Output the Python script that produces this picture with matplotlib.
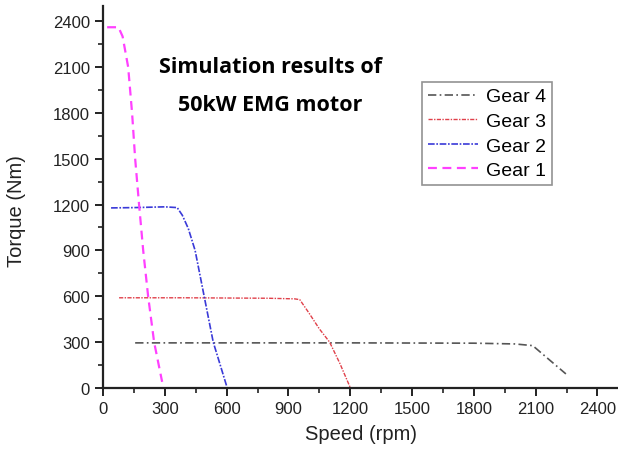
import matplotlib.pyplot as plt
from matplotlib.ticker import MultipleLocator

# Gear curves (speed rpm, torque Nm)
gear4_speed = [156, 600, 1200, 1800, 2000, 2086, 2247]
gear4_torque = [295, 295, 295, 293, 288, 277, 92]

gear3_speed = [78, 400, 800, 930, 955, 1000, 1050, 1100, 1150, 1201]
gear3_torque = [590, 590, 587, 583, 578, 490, 387, 300, 160, 0]

gear2_speed = [39, 150, 300, 360, 385, 414, 447, 491, 535, 560, 603]
gear2_torque = [1178, 1180, 1185, 1180, 1130, 1043, 900, 600, 300, 190, 0]

gear1_speed = [20, 75, 95, 122, 141, 156, 175, 195, 219, 248, 287]
gear1_torque = [2360, 2360, 2300, 2100, 1800, 1500, 1200, 900, 600, 300, 40]

plt.rcParams["font.family"] = ["Liberation Sans", "DejaVu Sans"]

fig = plt.figure(figsize=(6.18, 4.56), dpi=100)
ax = fig.add_axes([0.1667, 0.147, 0.8333, 0.838])

ax.plot(gear4_speed, gear4_torque, color="#555555", lw=1.2,
        ls=(0, (5, 2, 1, 2)), label="Gear 4")
ax.plot(gear3_speed, gear3_torque, color="#e0404a", lw=1.0,
        ls=(0, (3, 1, 1, 1)), label="Gear 3")
ax.plot(gear2_speed, gear2_torque, color="#3a3ad8", lw=1.2,
        ls=(0, (4, 1, 1, 1)), label="Gear 2")
ax.plot(gear1_speed, gear1_torque, color="#ff40ff", lw=1.6,
        ls=(0, (4, 2.5)), label="Gear 1")

ax.set_xlim(0, 2500)
ax.set_ylim(0, 2500)
ax.xaxis.set_major_locator(MultipleLocator(300))
ax.xaxis.set_minor_locator(MultipleLocator(150))
ax.yaxis.set_major_locator(MultipleLocator(300))
ax.yaxis.set_minor_locator(MultipleLocator(150))
ax.spines["top"].set_visible(False)
ax.spines["right"].set_visible(False)
for s in ("left", "bottom"):
    ax.spines[s].set_linewidth(1.6)
    ax.spines[s].set_color("#222222")
ax.tick_params(which="major", direction="out", length=6, width=1.4,
               labelsize=12, colors="#222222")
ax.tick_params(which="minor", direction="out", length=3.5, width=1.2,
               colors="#222222")

ax.set_xlabel("Speed (rpm)", fontsize=14.5, color="#222222", labelpad=6)
ax.set_ylabel("Torque (Nm)", fontsize=14.5, color="#222222")
ax.yaxis.set_label_coords(-0.150, 0.466)

ax.text(812, 2105, "Simulation results of", fontsize=15.5, fontweight="bold",
        family=["Open Sans", "DejaVu Sans"], ha="center", va="center")
ax.text(812, 1856, "50kW EMG motor", fontsize=15.5, fontweight="bold",
        family=["Open Sans", "DejaVu Sans"], ha="center", va="center")

leg = ax.legend(loc="upper left", bbox_to_anchor=(0.619, 0.801),
                fontsize=14, frameon=True, fancybox=False,
                handlelength=2.6, handletextpad=0.4, borderpad=0.3,
                labelspacing=0.36, borderaxespad=0)
leg.get_frame().set_edgecolor("#777777")
leg.get_frame().set_linewidth(1.2)

fig.savefig("out.png", dpi=100)
